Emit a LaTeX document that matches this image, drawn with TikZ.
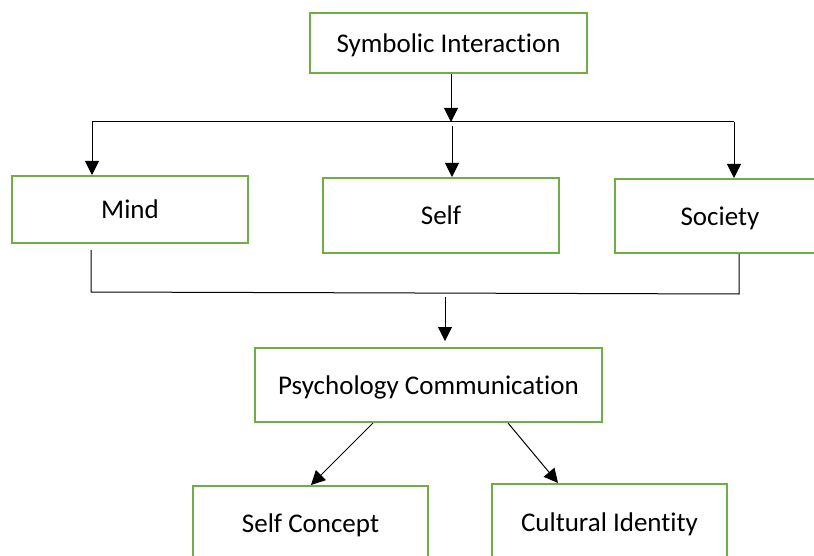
\documentclass[tikz,border=0pt]{standalone}
\usepackage{fontspec}
\setmainfont{Carlito}[RawFeature=-liga]
\usetikzlibrary{arrows.meta}
\definecolor{boxgreen}{HTML}{70AD47}
\tikzset{
  box/.style={draw=boxgreen, line width=2pt, fill=white, inner sep=0pt,
    text depth=0pt,
    font=\fontsize{27}{32}\selectfont, text=black, anchor=center},
  conn/.style={line width=1pt, draw=black},
  arr/.style={conn, -{Triangle[length=14pt,width=14pt]}}
}
\begin{document}
\begin{tikzpicture}[x=1pt,y=-1pt]
\useasboundingbox (0,0) rectangle (814,556);
\clip (0,0) rectangle (814,556);
\fill[white] (0,0) rectangle (814,556);
% boxes
\node[box, minimum width=277pt, minimum height=60pt] (sym) at (448.5,43) {Symbolic Interaction};
\node[box, minimum width=236pt, minimum height=67pt] (mind) at (130,209.5) {Mind};
\node[box, minimum width=236pt, minimum height=75pt] (self) at (441,215.5) {Self};
\node[box, minimum width=210pt, minimum height=74pt] (soc) at (720,216) {Society};
\node[box, minimum width=347pt, minimum height=74pt] (psy) at (428.5,385) {Psychology Communication};
\node[box, minimum width=235pt, minimum height=74pt] (sc) at (310.5,523) {Self Concept};
\node[box, minimum width=235pt, minimum height=76pt] (ci) at (609.5,522) {Cultural Identity};
% coordinates
\coordinate (busL) at (92,122);
\coordinate (busR) at (734,122);
\coordinate (busM) at (451,122);
\coordinate (selfIn) at (452,126);
\coordinate (mindOut) at (91,250);
\coordinate (mindLow) at (91,292);
\coordinate (socLow) at (739,294);
\coordinate (psyIn) at (445,297);
% upper connectors
\draw[conn] (busL) -- (busR);
\draw[arr] (sym.south -| busM) -- (busM);
\draw[arr] (busL) -- (busL |- mind.north);
\draw[arr] (selfIn) -- (selfIn |- self.north);
\draw[arr] (busR) -- (busR |- soc.north);
% lower collector
\draw[conn] (mindOut) -- (mindLow) -- (socLow) -- (socLow |- soc.south);
\draw[arr, shorten >=6pt] (psyIn) -- (psyIn |- psy.north);
% diagonal arrows
\draw[arr] (psy.south -| 373,0) -- (sc.north -| 311,0);
\draw[arr] (psy.south -| 508,0) -- (ci.north -| 558,0);
\end{tikzpicture}
\end{document}
